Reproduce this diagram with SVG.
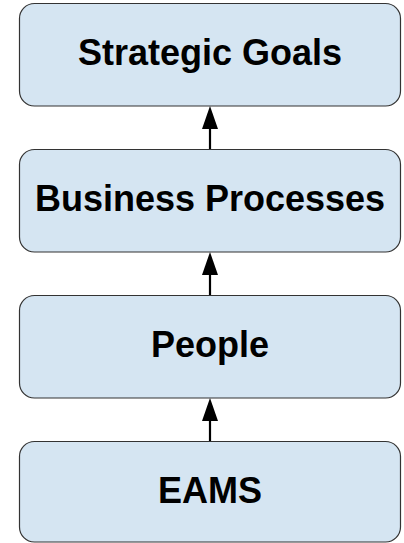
<svg xmlns="http://www.w3.org/2000/svg" width="404" height="543" viewBox="0 0 404 543">
<style>
.box{fill:#d5e5f2;stroke:#333333;stroke-width:1.2}
.lbl{font-family:"Liberation Sans",Arial,sans-serif;font-weight:bold;font-size:36px;fill:#000000;text-anchor:middle}
.conn{stroke:#000000;stroke-width:2.2;fill:none}
.head{fill:#000000}
</style>
<rect width="404" height="543" fill="#ffffff"/>
<g id="connectors">
<line class="conn" x1="210" y1="150" x2="210" y2="127"/>
<polygon class="head" points="210,106 202,129 218,129"/>
<line class="conn" x1="210" y1="296" x2="210" y2="273"/>
<polygon class="head" points="210,252 202,275 218,275"/>
<line class="conn" x1="210" y1="442" x2="210" y2="419"/>
<polygon class="head" points="210,398 202,421 218,421"/>
</g>
<g id="node-strategic-goals">
<rect class="box" x="19.5" y="3.5" width="381" height="102.5" rx="15" ry="15"/>
<text class="lbl" x="210" y="65">Strategic Goals</text>
</g>
<g id="node-business-processes">
<rect class="box" x="19.5" y="149.5" width="381" height="102.5" rx="15" ry="15"/>
<text class="lbl" x="210" y="211">Business Processes</text>
</g>
<g id="node-people">
<rect class="box" x="19.5" y="295.5" width="381" height="102.5" rx="15" ry="15"/>
<text class="lbl" x="210" y="357">People</text>
</g>
<g id="node-eams">
<rect class="box" x="19.5" y="441.5" width="381" height="100.5" rx="15" ry="15"/>
<text class="lbl" x="210" y="503">EAMS</text>
</g>
</svg>
